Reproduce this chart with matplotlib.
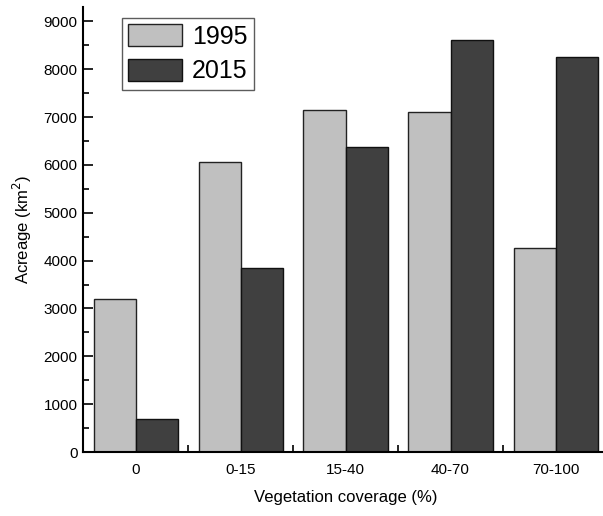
import numpy as np
import matplotlib.pyplot as plt
from matplotlib.ticker import MultipleLocator, FixedLocator

plt.rcParams['font.family'] = ['Liberation Sans', 'DejaVu Sans']

# data
categories = ["0", "0-15", "15-40", "40-70", "70-100"]
acreage_1995 = [3190, 6060, 7150, 7100, 4270]
acreage_2015 = [680, 3850, 6370, 8620, 8260]

width = 0.4
x = np.arange(1, len(categories) + 1)

fig = plt.figure(figsize=(6.03, 5.16), dpi=100)
# axes runs a bit past the right edge, like the original
ax = fig.add_axes([83 / 603, 1 - 452 / 516, 525 / 603, 445 / 516])

ax.bar(x - width / 2, acreage_1995, width, color="#c0c0c0", edgecolor="#222222", linewidth=1.0, label="1995")
ax.bar(x + width / 2, acreage_2015, width, color="#404040", edgecolor="#111111", linewidth=1.0, label="2015")

ax.set_xlim(0.5, 5.5)
ax.set_ylim(0, 9300)

ax.set_xticks(x)
ax.set_xticklabels(categories)
ax.xaxis.set_minor_locator(FixedLocator([1.5, 2.5, 3.5, 4.5]))
ax.yaxis.set_major_locator(MultipleLocator(1000))
ax.yaxis.set_minor_locator(MultipleLocator(500))

ax.tick_params(axis="x", which="major", length=0, labelsize=11, pad=8)
ax.tick_params(axis="x", which="minor", direction="in", length=5, width=1.2)
ax.tick_params(axis="y", which="major", direction="in", length=7, width=1.2, labelsize=11, pad=4)
ax.tick_params(axis="y", which="minor", direction="in", length=4, width=1.2)

for s in ("top", "right"):
    ax.spines[s].set_visible(False)
for s in ("left", "bottom"):
    ax.spines[s].set_linewidth(1.5)

ax.set_xlabel("Vegetation coverage (%)", fontsize=12, labelpad=9)
ax.set_ylabel("Acreage (km$^2$)", fontsize=12, labelpad=7)

leg = ax.legend(loc="upper left", bbox_to_anchor=(39 / 525, 0.975), fontsize=18,
                frameon=True, fancybox=False, edgecolor="#333333",
                handlelength=2.15, handleheight=0.96, handletextpad=0.4,
                borderpad=0.25, labelspacing=0.4, borderaxespad=0)
leg.get_frame().set_linewidth(1.0)

fig.savefig("out.png", dpi=100)
